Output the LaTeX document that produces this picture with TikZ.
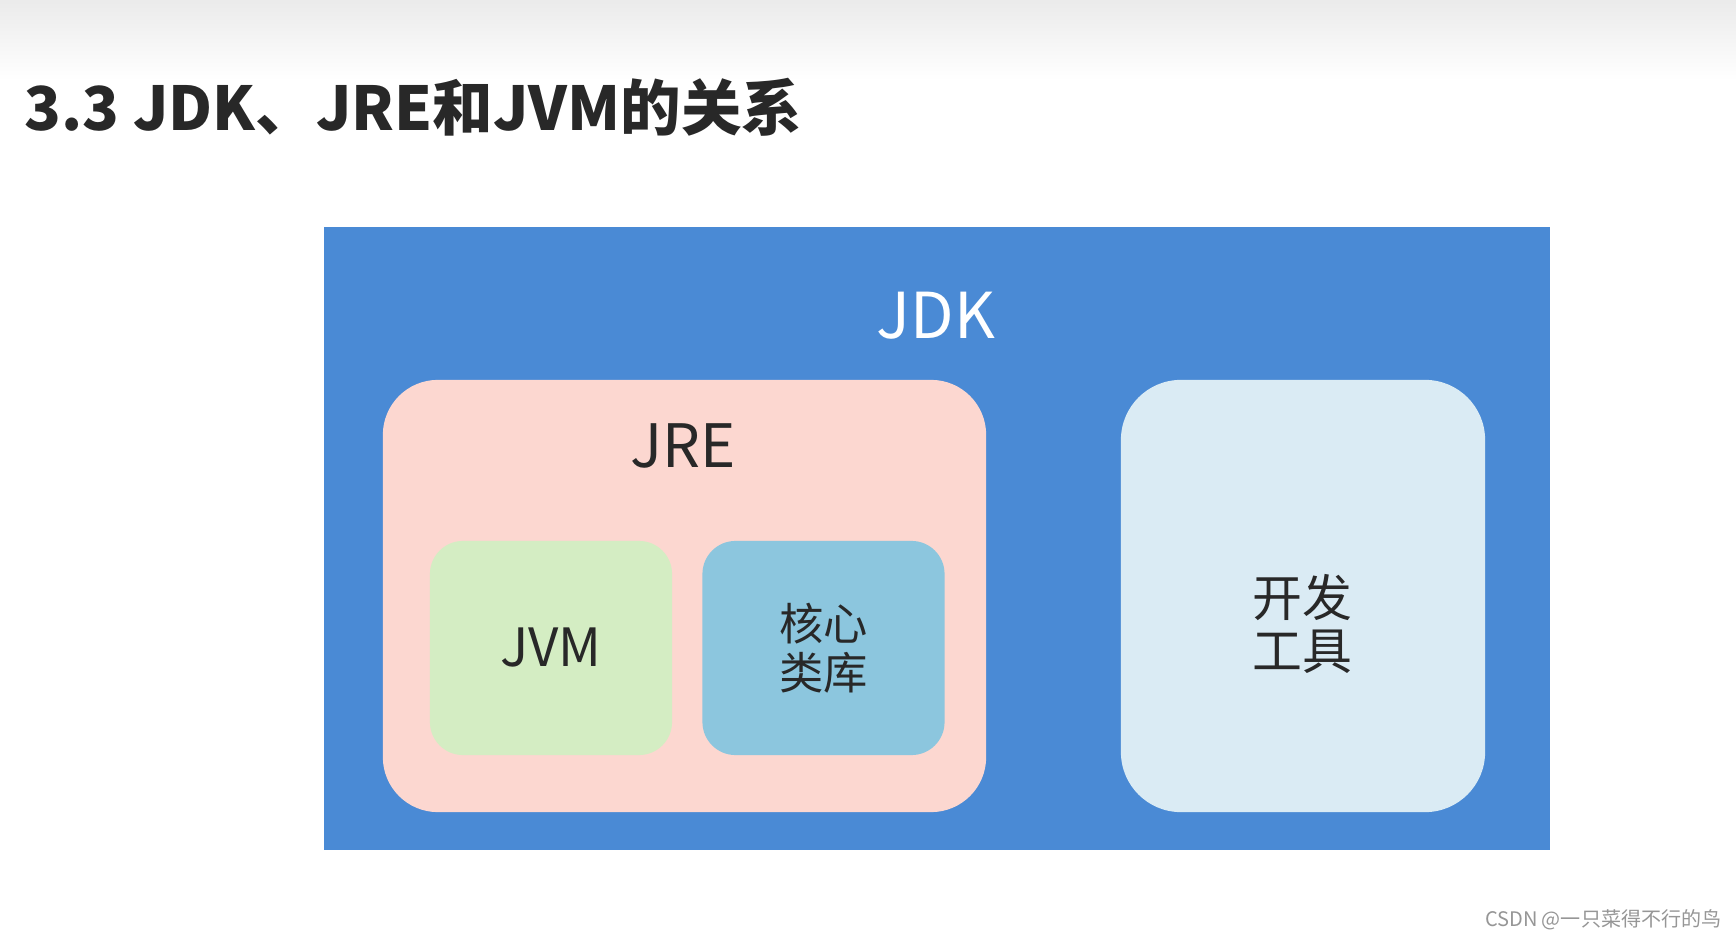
\documentclass[tikz,border=0pt]{standalone}
\usepackage{fontspec}
\setmainfont{Noto Sans CJK SC}
\usepackage{xcolor}
\usepackage{tikz}
\usetikzlibrary{positioning}
\definecolor{jdkblue}{RGB}{74,138,213}
\definecolor{jrepink}{RGB}{252,215,208}
\definecolor{jvmgreen}{RGB}{212,237,195}
\definecolor{libblue}{RGB}{140,198,222}
\definecolor{toolblue}{RGB}{218,235,244}
\definecolor{textgray}{RGB}{40,40,40}
\definecolor{markgray}{RGB}{150,150,150}
\tikzset{
  jdkbox/.style={fill=jdkblue, minimum width=12.26cm, minimum height=6.23cm, inner sep=0pt},
  jrebox/.style={fill=jrepink, rounded corners=0.55cm, minimum width=6.03cm, minimum height=4.32cm, inner sep=0pt},
  innerbox/.style={rounded corners=0.33cm, minimum width=2.42cm, minimum height=2.14cm, inner sep=0pt, align=center, text=textgray},
  toolbox/.style={fill=toolblue, rounded corners=0.6cm, minimum width=3.64cm, minimum height=4.32cm, inner sep=0pt},
  boxlabel/.style={inner sep=0pt, anchor=center, align=center}
}
\begin{document}
\begin{tikzpicture}[x=0.01cm, y=-0.01cm]
\useasboundingbox (0,0) rectangle (1736,940);
\shade[top color=black!8, bottom color=white] (0,0) rectangle (1736,80);

\node[anchor=base west, inner sep=0pt, text=textgray, font=\bfseries\fontsize{17.2}{20}\selectfont] (title) at (24,131) {3.3 JDK、JRE和JVM的关系};

\node[jdkbox] (jdk) at (937,538.5) {};
\node[boxlabel, text=white, font=\fontsize{18}{21}\selectfont] (jdklabel) at (936,316) {JDK};

\node[jrebox] (jre) at (684.5,596) {};
\node[boxlabel, text=textgray, font=\fontsize{17}{20}\selectfont] (jrelabel) at (683,446) {JRE};

\node[innerbox, fill=jvmgreen, font=\fontsize{15}{18}\selectfont] (jvm) at (551,648) {JVM};
\node[innerbox, fill=libblue, font=\fontsize{12.6}{14}\selectfont] (lib) at (823.5,648) {核心\\类库};

\node[toolbox] (tools) at (1303,596) {};
\node[boxlabel, text=textgray, font=\fontsize{14.2}{15.1}\selectfont] (toolslabel) at (1302,624) {开发\\工具};

\node[anchor=east, inner sep=0pt, text=markgray, font=\fontsize{5.7}{8}\selectfont] (mark) at (1722,920) {CSDN @一只菜得不行的鸟};
\end{tikzpicture}
\end{document}
